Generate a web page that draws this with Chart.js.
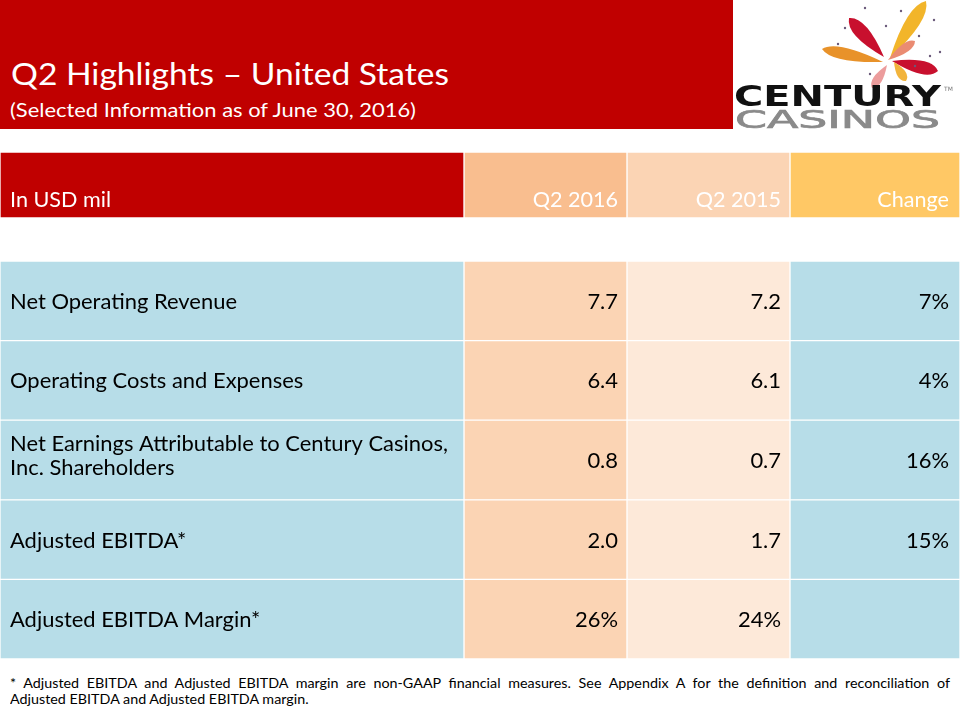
<!DOCTYPE html>
<html>
<head>
<meta charset="utf-8">
<script src="https://cdn.jsdelivr.net/npm/chart.js@4.4.1/dist/chart.umd.min.js"></script>
<style>
html,body{margin:0;padding:0;background:#fff;width:960px;height:720px;overflow:hidden;font-family:Lato,"Open Sans",sans-serif;}
#banner{position:absolute;left:0;top:0;width:733px;height:129px;background:#C00000;}
.t{position:absolute;white-space:nowrap;line-height:1.2;margin:0;transform-origin:0 0;}
.mk{display:inline-block;width:0;height:0;vertical-align:baseline;}
canvas{position:absolute;display:block;}
#headerChart{left:0;top:152px;}
#bodyChart{left:0;top:261px;}
#logoArt{left:733px;top:0;}
#fn1{text-align:justify;text-align-last:justify;white-space:normal;}
</style>
</head>
<body>
<div id="banner"></div>
<canvas id="logoArt" width="227" height="92"></canvas>
<div class="t" id="title" style="color:#fff">Q2 Highlights – United States<span class="mk"></span></div>
<div class="t" id="subtitle" style="color:#fff">(Selected Information as of June 30, 2016)<span class="mk"></span></div>
<div class="t" id="logo1" style="color:#111;font-family:'DejaVu Sans';font-weight:bold;">CENTURY<span class="mk"></span></div>
<div class="t" id="logo2" style="color:#8a8a8a;font-family:'DejaVu Sans';-webkit-text-stroke:0.7px #8a8a8a;">CASINOS<span class="mk"></span></div>
<div class="t" id="logotm" style="color:#777;font-family:'DejaVu Sans';font-size:6px;">TM<span class="mk"></span></div>
<canvas id="headerChart" width="960" height="66"></canvas>
<canvas id="bodyChart" width="960" height="398"></canvas>
<div class="t" id="fn1">* Adjusted EBITDA and Adjusted EBITDA margin are non-GAAP financial measures. See Appendix A for the definition and reconciliation of<span class="mk"></span></div>
<div class="t" id="fn2">Adjusted EBITDA and Adjusted EBITDA margin.<span class="mk"></span></div>
<script>
// ---------- data ----------
const columnHeaders = ['In USD mil', 'Q2 2016', 'Q2 2015', 'Change'];
const rowLabels = [
  ['Net Operating Revenue'],
  ['Operating Costs and Expenses'],
  ['Net Earnings Attributable to Century Casinos,', 'Inc. Shareholders'],
  ['Adjusted EBITDA*'],
  ['Adjusted EBITDA Margin*']
];
const q2_2016 = [7.7, 6.4, 0.8, 2.0, 26];
const q2_2015 = [7.2, 6.1, 0.7, 1.7, 24];
const changePct = [7, 4, 16, 15, null];
const rowUnits = ['mil', 'mil', 'mil', 'mil', '%'];

// ---------- layout / style ----------
const colEdges = [0, 464, 627, 790, 960];
const colPadRight = [0, 9, 9, 11];
const headerFill = ['#C00000', '#F9BE8F', '#FBD4B4', '#FFC865'];
const bodyFill = ['#B7DDE8', '#FBD4B4', '#FDE9D9', '#B7DDE8'];
const FONT = 'Lato';
const CAP = 0.7165; // Lato cap-height ratio

const mctx = document.createElement('canvas').getContext('2d');
function measure(text, family, weight, size) {
  mctx.font = weight + ' ' + size + 'px ' + family;
  return mctx.measureText(text).width;
}
function fitSize(text, target) {
  return 100 * target / measure(text, FONT, 'normal', 100);
}
function place(id, x, baseline, size) {
  const el = document.getElementById(id);
  if (size) el.style.fontSize = size + 'px';
  el.style.left = x + 'px';
  el.style.top = '0px';
  const mk = el.querySelector('.mk');
  const off = mk.offsetTop;
  el.style.top = (baseline - off) + 'px';
  return el;
}
// text sized by cap height, then stretched to a target width
function placeFit(id, x, baseline, capH, text, targetW) {
  const size = capH / CAP;
  const w = measure(text, FONT, 'normal', size);
  const sx = targetW / w;
  const el = place(id, x, baseline, size);
  el.style.transform = 'scaleX(' + sx + ')';
  return sx;
}

placeFit('title', 11, 85, 22, 'Q2 Highlights – United States', 438);
placeFit('subtitle', 10, 117, 13.5, '(Selected Information as of June 30, 2016)', 407);
const fnSx = placeFit('fn2', 10, 704, 10, 'Adjusted EBITDA and Adjusted EBITDA margin.', 300);
(function () {
  const size = 10 / CAP;
  const el = document.getElementById('fn1');
  el.style.width = (940 / fnSx) + 'px';
  place('fn1', 10, 688, size);
  el.style.transform = 'scaleX(' + fnSx + ')';
})();

// logo text
(function () {
  const s1 = 29;
  const e1 = place('logo1', 734, 106, s1);
  const w1 = measure('CENTURY', '"DejaVu Sans"', 'bold', s1);
  e1.style.transform = 'scaleX(' + (207 / w1) + ')';
  const s2 = 24.5;
  const e2 = place('logo2', 735, 128, s2);
  const w2 = measure('CASINOS', '"DejaVu Sans"', 'normal', s2);
  e2.style.transform = 'scaleX(' + (205 / w2) + ')';
  place('logotm', 944, 91);
})();

// logo art (decorative brush strokes)
(function () {
  const c = document.getElementById('logoArt').getContext('2d');
  c.translate(-733, 0);
  function leaf(x1, y1, x2, y2, w, col) {
    const dx = x2 - x1, dy = y2 - y1, L = Math.hypot(dx, dy);
    const nx = -dy / L, ny = dx / L;
    const mx = x1 + dx * 0.8, my = y1 + dy * 0.8;
    c.beginPath();
    c.moveTo(x1, y1);
    c.quadraticCurveTo(mx + nx * w, my + ny * w, x2, y2);
    c.quadraticCurveTo(mx - nx * w, my - ny * w, x1, y1);
    c.closePath();
    c.fillStyle = col;
    c.fill();
  }
  leaf(884, 57, 849, 18, 14, '#C8102E');
  leaf(890, 58, 926, 1, 14, '#F2B52A');
  leaf(883, 62, 822, 49, 12, '#E8922A');
  leaf(888, 60, 915, 41, 9, '#EA8B72');
  leaf(892, 61, 938, 71, 13, '#C8102E');
  leaf(887, 65, 872, 88, 9, '#EC9C9C');
  leaf(894, 62, 906, 81, 9, '#F2B43C');
  const dots = [[865, 8], [845, 28], [934, 20], [901, 11], [940, 52], [838, 44], [886, 26], [919, 36], [915, 66], [870, 74], [930, 56]];
  c.fillStyle = '#6a5a7a';
  dots.forEach(d => { c.beginPath(); c.arc(d[0], d[1], 1.2, 0, Math.PI * 2); c.fill(); });
})();

// ---------- table via Chart.js (floating horizontal bars as cells) ----------
const bodySize = fitSize('Net Earnings Attributable to Century Casinos,', 438);
const headSize = fitSize('In USD mil', 101);

function fmt(v, unit) {
  if (v === null || v === undefined) return '';
  return unit === '%' ? v + '%' : v.toFixed(1);
}

function makeDatasets(nRows, fills) {
  return columnHeaders.map((h, i) => ({
    label: h,
    data: Array.from({ length: nRows }, () => [colEdges[i], colEdges[i + 1]]),
    backgroundColor: fills[i],
    borderColor: '#ffffff',
    borderWidth: 1,
    borderSkipped: false,
    barPercentage: 1,
    categoryPercentage: 1,
    grouped: false
  }));
}

const baseOpts = {
  indexAxis: 'y',
  responsive: false,
  animation: false,
  events: [],
  devicePixelRatio: 1,
  layout: { padding: 0 },
  plugins: { legend: { display: false }, tooltip: { enabled: false } },
  scales: {
    x: { type: 'linear', min: 0, max: 960, display: false },
    y: { type: 'category', display: false, offset: true }
  }
};

const headerTextPlugin = {
  id: 'headerText',
  afterDatasetsDraw(chart) {
    const ctx = chart.ctx;
    const yc = chart.scales.y.getPixelForValue(0);
    ctx.save();
    ctx.font = headSize + 'px ' + FONT;
    ctx.fillStyle = '#ffffff';
    ctx.textBaseline = 'alphabetic';
    columnHeaders.forEach((h, c) => {
      const el = chart.getDatasetMeta(c).data[0];
      if (c === 0) { ctx.textAlign = 'left'; ctx.fillText(h, el.base + 10, yc + 22); }
      else { ctx.textAlign = 'right'; ctx.fillText(h, el.x - colPadRight[c], yc + 22); }
    });
    ctx.restore();
  }
};

const bodyTextPlugin = {
  id: 'bodyText',
  afterDatasetsDraw(chart) {
    const ctx = chart.ctx;
    ctx.save();
    ctx.font = bodySize + 'px ' + FONT;
    ctx.fillStyle = '#000000';
    ctx.textBaseline = 'alphabetic';
    rowLabels.forEach((lines, r) => {
      const yc = chart.scales.y.getPixelForValue(r);
      const el0 = chart.getDatasetMeta(0).data[r];
      ctx.textAlign = 'left';
      if (lines.length === 1) ctx.fillText(lines[0], el0.base + 10, yc + 8);
      else lines.forEach((ln, k) => ctx.fillText(ln, el0.base + 10, yc - 9 + k * 24));
      const vals = [null, fmt(q2_2016[r], rowUnits[r]), fmt(q2_2015[r], rowUnits[r]), fmt(changePct[r], '%')];
      ctx.textAlign = 'right';
      for (let c = 1; c < 4; c++) {
        const el = chart.getDatasetMeta(c).data[r];
        ctx.fillText(vals[c], el.x - colPadRight[c], yc + 8);
      }
    });
    ctx.restore();
  }
};

new Chart(document.getElementById('headerChart'), {
  type: 'bar',
  data: { labels: ['header'], datasets: makeDatasets(1, headerFill) },
  options: baseOpts,
  plugins: [headerTextPlugin]
});

new Chart(document.getElementById('bodyChart'), {
  type: 'bar',
  data: { labels: rowLabels.map(l => l.join(' ')), datasets: makeDatasets(rowLabels.length, bodyFill) },
  options: baseOpts,
  plugins: [bodyTextPlugin]
});
</script>
</body>
</html>
